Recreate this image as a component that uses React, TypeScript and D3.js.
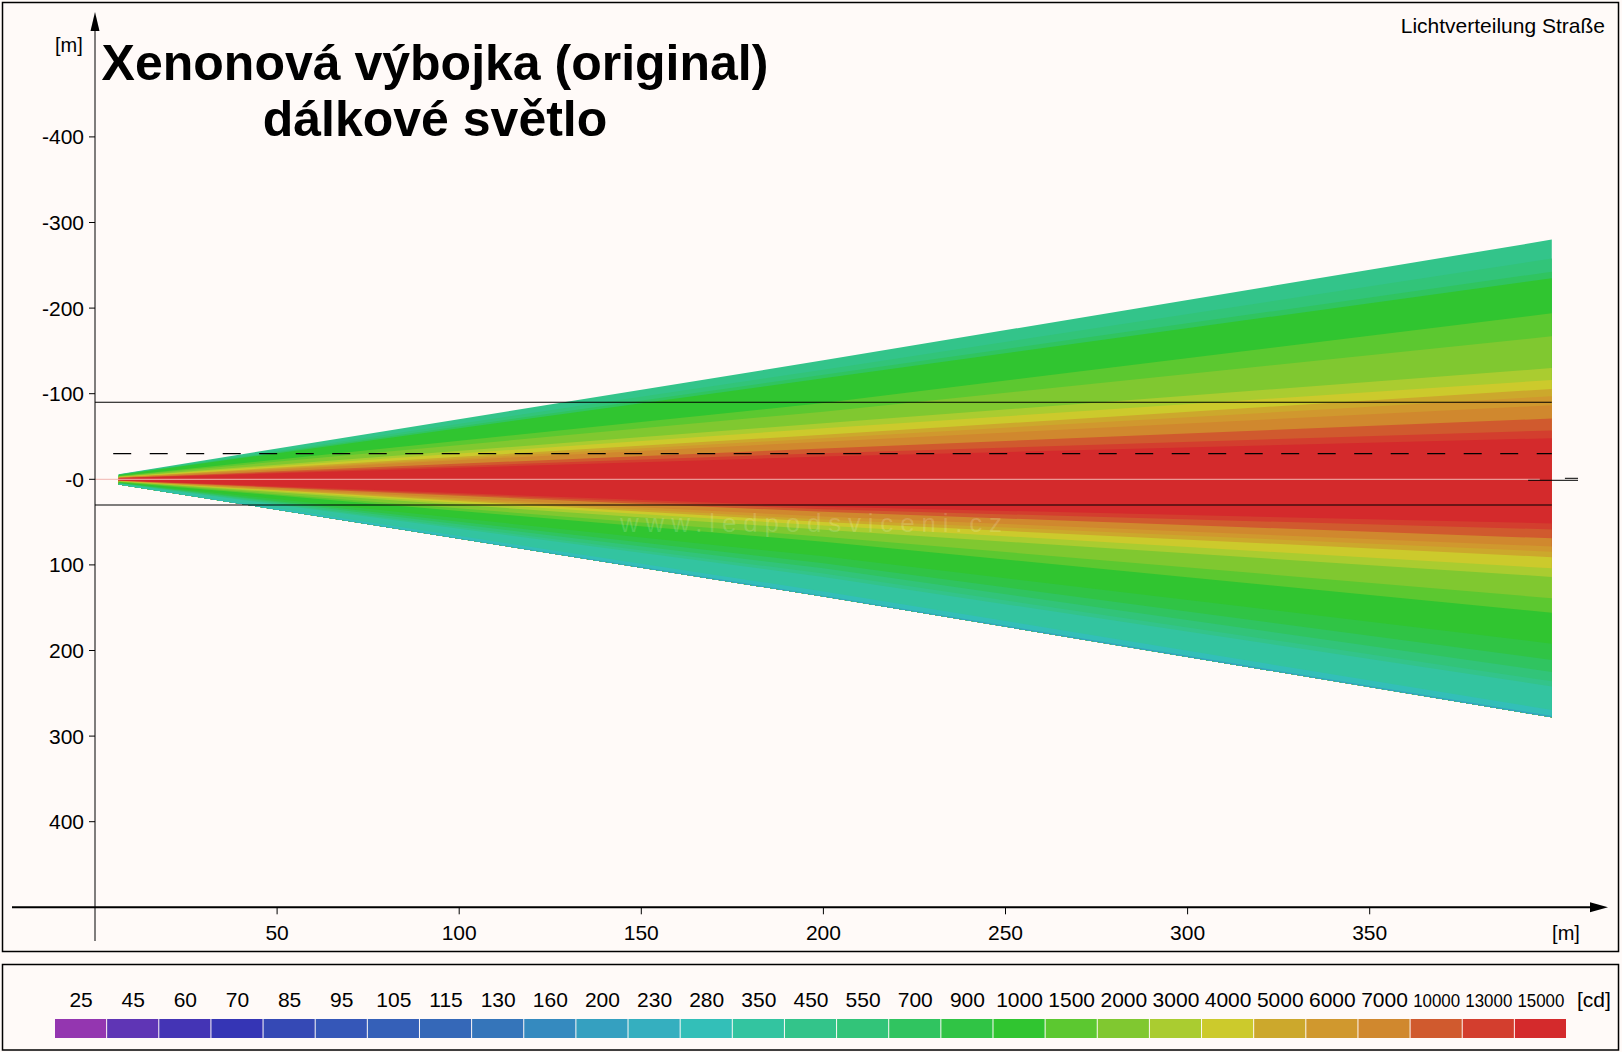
import React from "react";
import * as d3 from "d3";

// ---- Data ----
const legendLevels = [25, 45, 60, 70, 85, 95, 105, 115, 130, 160, 200, 230, 280, 350, 450, 550, 700, 900, 1000, 1500, 2000, 3000, 4000, 5000, 6000, 7000, 10000, 13000, 15000];
const legendColors = ["#9436b0", "#5f35b5", "#4434b5", "#3535b5", "#3549b5", "#3557b8", "#3560b8", "#3568b8", "#3575ba", "#358abf", "#35a0c0", "#35afbf", "#33bfb8", "#33c4a0", "#33c48a", "#32c479", "#30c460", "#30c445", "#30c530", "#5cc830", "#80c830", "#aacc30", "#ccca2c", "#cca82c", "#d0982e", "#d0882e", "#d05a2e", "#d33e2e", "#d42a2c"];

const xTicks = [50, 100, 150, 200, 250, 300, 350];
const yTicks = [-400, -300, -200, -100, 0, 100, 200, 300, 400];
const yTickLabels = ["-400", "-300", "-200", "-100", "-0", "100", "200", "300", "400"];

// distances (m) where the band boundaries are read
const stationX = [6.5, 200, 400];
// band levels, top edge to bottom edge
const bandLevels = [450, 550, 700, 1000, 1500, 2000, 3000, 4000, 5000, 6000, 7000, 10000, 13000, 15000, 13000, 10000, 7000, 6000, 5000, 4000, 3000, 2000, 1500, 1000, 900, 700, 550, 450, 350, 280, 200];
// lateral boundaries (m) at each station, top to bottom
const boundariesTip = [-6, -5.6, -5.3, -5.1, -4, -3.6, -3, -2.7, -2.4, -2.2, -2, -1.6, -1.4, -1.2, 1.4, 1.6, 1.7, 1.9, 2.1, 2.2, 2.4, 2.6, 3, 3.3, 4, 4.4, 4.6, 4.9, 5.1, 5.8, 6, 6.1];
const boundaries200 = [-139, -128, -122, -118, -89, -79, -65.5, -59.5, -52, -48, -44, -36, -30.5, -26.5, 32, 35, 38, 43.5, 47, 50, 54, 59, 67, 73, 90, 98, 104, 110, 114, 131, 136, 137];
const boundaries400 = [-280, -258, -242.5, -235, -194, -167, -130, -116, -105.5, -97, -86.5, -71, -57, -48, 51.5, 58.5, 69, 78.5, 84.5, 91, 104, 114, 139, 156, 192, 211, 225, 236, 242, 269.5, 276.5, 278];

const solidLinesY = [-90, 30];
const dashedLineY = -30;
const dashedLineStart = 5;
const roadEnd = 400;
const centerLineEnd = 396.7;

const FONT = "'Liberation Sans', Arial, Helvetica, sans-serif";

export default function App() {
  const x = d3.scaleLinear().domain([0, 400]).range([95, 1551.8]);
  const y = d3.scaleLinear().domain([-400, 400]).range([136.9, 821.7]);
  const legendX = d3.scaleBand<number>().domain(legendLevels).range([55, 1567]).padding(0);
  const colorOf = d3.scaleOrdinal<number, string>().domain(legendLevels).range(legendColors);

  const stations = [boundariesTip, boundaries200, boundaries400];
  const line = d3.line<[number, number]>().x((d) => x(d[0])).y((d) => y(d[1]));
  const last = boundariesTip.length - 1;

  // painter's algorithm: each band polygon runs from its upper boundary to the bottom edge
  const bandPaths = bandLevels.map((lvl, i) => {
    const upper: [number, number][] = stationX.map((sx, k) => [sx, stations[k][i]]);
    const lower: [number, number][] = stationX.map((sx, k) => [sx, stations[k][last]] as [number, number]).reverse();
    return { lvl, d: line([...upper, ...lower]) + "Z" };
  });

  const bg = "#fffaf8";
  const axisY = y(500);

  return (
    <svg width={1622} height={1052} style={{ position: "absolute", left: 0, top: 0, display: "block" }} fontFamily={FONT}>
      <rect x={0} y={0} width={1622} height={1052} fill={bg} />
      {/* frames */}
      <rect x={2.5} y={2.5} width={1616} height={949} fill={bg} stroke="#000" strokeWidth={1.5} />
      <rect x={2.5} y={964.5} width={1616} height={85.5} fill={bg} stroke="#000" strokeWidth={1.5} />

      {/* light cone */}
      <g>
        {bandPaths.map((b, i) => (
          <path key={i} d={b.d} fill={colorOf(b.lvl)} />
        ))}
      </g>

      {/* watermark */}
      <text x={620} y={532} fontSize={26} fill="#ffffff" fillOpacity={0.16} letterSpacing={6.8}>www.ledpodsviceni.cz</text>

      {/* center line */}
      <line x1={x(0)} x2={x(centerLineEnd)} y1={y(0)} y2={y(0)} stroke="#f0b4b0" strokeWidth={1} />
      {/* small marker at the right end */}
      <line x1={x(393.5)} x2={x(407.2)} y1={y(0) + 1} y2={y(0) + 1} stroke="#000" strokeWidth={1} />
      <line x1={x(403.6)} x2={x(407.2)} y1={y(0) - 1} y2={y(0) - 1} stroke="#000" strokeWidth={1} />

      {/* road lines */}
      {solidLinesY.map((v) => (
        <line key={v} x1={x(0)} x2={x(roadEnd)} y1={y(v)} y2={y(v)} stroke="#000" strokeWidth={1.2} />
      ))}
      <line x1={x(dashedLineStart)} x2={x(roadEnd)} y1={y(dashedLineY)} y2={y(dashedLineY)} stroke="#000" strokeWidth={1.2} strokeDasharray="18 18.5" />

      {/* y axis */}
      <line x1={x(0)} x2={x(0)} y1={28} y2={941} stroke="#000" strokeWidth={1} />
      <path d={`M${x(0)},12 L${x(0) - 4.5},31 L${x(0) + 4.5},31 Z`} fill="#000" />
      {yTicks.map((v, i) => (
        <g key={v}>
          <line x1={x(0) - 6} x2={x(0)} y1={y(v)} y2={y(v)} stroke="#000" strokeWidth={1} />
          <text x={84} y={y(v) + 7.5} fontSize={21} textAnchor="end" fill="#000">{yTickLabels[i]}</text>
        </g>
      ))}
      <text x={55} y={52} fontSize={20} fill="#000">[m]</text>

      {/* x axis */}
      <line x1={12} x2={1592} y1={axisY} y2={axisY} stroke="#000" strokeWidth={2} />
      <path d={`M1608,${axisY} L1590,${axisY - 5} L1590,${axisY + 5} Z`} fill="#000" />
      {xTicks.map((v) => (
        <g key={v}>
          <line x1={x(v)} x2={x(v)} y1={axisY} y2={axisY + 7} stroke="#000" strokeWidth={1} />
          <text x={x(v)} y={939.5} fontSize={21} textAnchor="middle" fill="#000">{v}</text>
        </g>
      ))}
      <text x={1566} y={939.5} fontSize={20} textAnchor="middle" fill="#000">[m]</text>

      {/* titles */}
      <text x={435} y={79.5} fontSize={50} fontWeight="bold" textAnchor="middle" fill="#000">Xenonová výbojka (original)</text>
      <text x={435} y={136} fontSize={50} fontWeight="bold" textAnchor="middle" fill="#000">dálkové světlo</text>
      <text x={1605} y={33} fontSize={21} textAnchor="end" fill="#000">Lichtverteilung Straße</text>

      {/* legend */}
      {legendLevels.map((lvl) => {
        const label = String(lvl);
        const long = label.length >= 5;
        return (
          <g key={lvl}>
            <rect x={legendX(lvl)!} y={1019} width={legendX.bandwidth() - 1} height={19} fill={colorOf(lvl)} />
            <text
              x={legendX(lvl)! + legendX.bandwidth() / 2}
              y={1006.5}
              fontSize={long ? 18 : 21}
              textAnchor="middle"
              fill="#000"
              {...(long ? { textLength: 47, lengthAdjust: "spacingAndGlyphs" } : {})}
            >
              {label}
            </text>
          </g>
        );
      })}
      <text x={1577} y={1006.5} fontSize={21} fill="#000">[cd]</text>
    </svg>
  );
}
